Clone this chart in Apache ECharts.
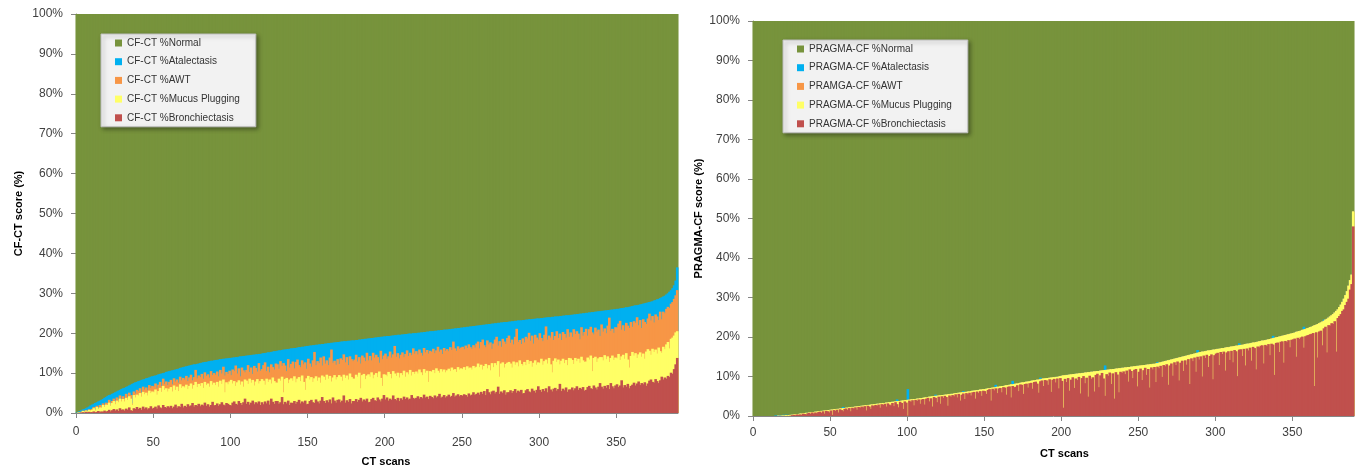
<!DOCTYPE html>
<html>
<head>
<meta charset="utf-8">
<title>CF-CT / PRAGMA-CF</title>
<script src="https://cdn.jsdelivr.net/npm/echarts@6/dist/echarts.min.js"></script>
<style>
  html, body { margin: 0; padding: 0; background: #fff; }
  #main { width: 1357px; height: 467px; }
</style>
</head>
<body>
<div id="main"></div>
<script>
// 390 CT scans per panel. Each array holds the height (%) where that band
// ends for every scan; bands are drawn over each other.
var xTicks = [0, 50, 100, 150, 200, 250, 300, 350];

var ctNames = ['CF-CT %Normal', 'CF-CT %Atalectasis', 'CF-CT %AWT', 'CF-CT %Mucus Plugging', 'CF-CT %Bronchiectasis'];
var pragmaNames = ['PRAGMA-CF %Normal', 'PRAGMA-CF %Atalectasis', 'PRAMGA-CF %AWT', 'PRAGMA-CF %Mucus Plugging', 'PRAGMA-CF %Bronchiectasis'];

var normalTop = [
100,100,100,100,100,100,100,100,100,100, 100,100,100,100,100,100,100,100,100,100,
100,100,100,100,100,100,100,100,100,100, 100,100,100,100,100,100,100,100,100,100,
100,100,100,100,100,100,100,100,100,100, 100,100,100,100,100,100,100,100,100,100,
100,100,100,100,100,100,100,100,100,100, 100,100,100,100,100,100,100,100,100,100,
100,100,100,100,100,100,100,100,100,100, 100,100,100,100,100,100,100,100,100,100,
100,100,100,100,100,100,100,100,100,100, 100,100,100,100,100,100,100,100,100,100,
100,100,100,100,100,100,100,100,100,100, 100,100,100,100,100,100,100,100,100,100,
100,100,100,100,100,100,100,100,100,100, 100,100,100,100,100,100,100,100,100,100,
100,100,100,100,100,100,100,100,100,100, 100,100,100,100,100,100,100,100,100,100,
100,100,100,100,100,100,100,100,100,100, 100,100,100,100,100,100,100,100,100,100,
100,100,100,100,100,100,100,100,100,100, 100,100,100,100,100,100,100,100,100,100,
100,100,100,100,100,100,100,100,100,100, 100,100,100,100,100,100,100,100,100,100,
100,100,100,100,100,100,100,100,100,100, 100,100,100,100,100,100,100,100,100,100,
100,100,100,100,100,100,100,100,100,100, 100,100,100,100,100,100,100,100,100,100,
100,100,100,100,100,100,100,100,100,100, 100,100,100,100,100,100,100,100,100,100,
100,100,100,100,100,100,100,100,100,100, 100,100,100,100,100,100,100,100,100,100,
100,100,100,100,100,100,100,100,100,100, 100,100,100,100,100,100,100,100,100,100,
100,100,100,100,100,100,100,100,100,100, 100,100,100,100,100,100,100,100,100,100,
100,100,100,100,100,100,100,100,100,100, 100,100,100,100,100,100,100,100,100,100,
100,100,100,100,100,100,100,100,100,100
];

// CF-CT panel
var ctAtelectasisTop = [
0.1,0.3,0.5,0.7,0.9,1.0,1.2,1.4,1.6,1.9, 2.1,2.3,2.5,2.7,2.9,3.1,3.3,3.5,3.8,4.0,
4.3,4.5,4.6,4.8,5.0,5.2,5.4,5.6,5.8,6.0, 6.2,6.3,6.5,6.7,6.9,7.1,7.3,7.5,7.7,7.8,
8.0,8.1,8.3,8.4,8.5,8.7,8.8,8.9,9.1,9.2, 9.3,9.4,9.5,9.7,9.8,9.9,10.0,10.1,10.3,10.4,
10.5,10.6,10.7,10.8,10.9,11.0,11.1,11.3,11.4,11.5, 11.6,11.7,11.8,11.9,12.0,12.1,12.2,12.2,12.3,12.4,
12.5,12.6,12.7,12.8,12.8,12.9,13.0,13.1,13.1,13.2, 13.3,13.3,13.4,13.5,13.5,13.6,13.6,13.7,13.7,13.8,
13.8,13.9,13.9,14.0,14.0,14.1,14.2,14.2,14.3,14.3, 14.4,14.4,14.5,14.5,14.6,14.6,14.7,14.7,14.8,14.8,
14.9,15.0,15.0,15.1,15.2,15.2,15.3,15.4,15.5,15.5, 15.6,15.7,15.7,15.8,15.9,15.9,16.0,16.0,16.1,16.2,
16.2,16.3,16.3,16.4,16.5,16.5,16.6,16.6,16.7,16.8, 16.8,16.9,16.9,17.0,17.0,17.1,17.1,17.2,17.2,17.3,
17.3,17.4,17.4,17.5,17.5,17.6,17.6,17.7,17.7,17.8, 17.8,17.9,17.9,18.0,18.0,18.0,18.1,18.1,18.2,18.2,
18.2,18.3,18.3,18.4,18.4,18.5,18.5,18.6,18.6,18.7, 18.7,18.8,18.8,18.9,18.9,19.0,19.0,19.1,19.1,19.2,
19.2,19.3,19.3,19.3,19.4,19.4,19.5,19.5,19.6,19.6, 19.6,19.7,19.7,19.8,19.8,19.9,19.9,19.9,20.0,20.0,
20.0,20.1,20.1,20.2,20.2,20.3,20.3,20.4,20.4,20.5, 20.5,20.5,20.6,20.6,20.7,20.7,20.8,20.8,20.9,20.9,
20.9,21.0,21.0,21.1,21.1,21.2,21.2,21.3,21.3,21.4, 21.4,21.5,21.5,21.6,21.6,21.7,21.7,21.8,21.8,21.9,
21.9,22.0,22.0,22.1,22.1,22.2,22.2,22.3,22.3,22.4, 22.4,22.5,22.5,22.6,22.6,22.7,22.7,22.8,22.8,22.8,
22.9,22.9,23.0,23.0,23.1,23.1,23.2,23.2,23.2,23.3, 23.3,23.4,23.4,23.5,23.5,23.5,23.6,23.6,23.7,23.7,
23.7,23.8,23.8,23.9,23.9,24.0,24.0,24.0,24.1,24.1, 24.2,24.2,24.2,24.3,24.3,24.4,24.4,24.5,24.5,24.5,
24.6,24.6,24.7,24.7,24.8,24.8,24.9,24.9,25.0,25.0, 25.1,25.1,25.2,25.2,25.3,25.3,25.4,25.4,25.5,25.5,
25.6,25.6,25.7,25.7,25.8,25.8,25.9,25.9,26.0,26.0, 26.1,26.1,26.2,26.3,26.3,26.4,26.5,26.5,26.6,26.7,
26.8,26.9,27.0,27.0,27.1,27.2,27.3,27.4,27.5,27.6, 27.7,27.8,27.9,28.0,28.2,28.3,28.5,28.6,28.8,29.0,
29.2,29.4,29.7,30.0,30.4,30.8,31.3,32.0,33.2,36.5
];
var ctAwtTop = [
0.0,0.1,0.2,0.3,0.6,0.4,0.7,0.5,0.9,0.8, 1.0,1.5,0.9,1.8,1.3,2.0,1.6,2.4,1.9,2.6,
2.5,3.3,2.2,3.0,3.6,2.8,3.9,3.2,4.4,3.5, 4.2,3.6,4.8,4.0,5.1,4.5,2.4,5.4,4.9,5.8,
5.5,6.2,5.1,6.6,5.9,6.4,5.7,7.0,6.3,6.8, 6.6,7.4,6.2,7.1,7.8,6.8,8.6,7.3,7.9,7.0,
7.8,8.3,7.2,8.7,7.9,8.4,7.6,9.1,8.2,8.8, 8.4,9.3,8.0,8.9,9.6,8.2,9.0,10.8,8.7,9.4,
9.0,9.8,8.6,10.2,9.3,9.7,8.9,10.5,9.5,10.0, 9.6,10.4,9.2,10.8,9.9,11.6,9.4,10.3,9.8,10.6,
9.5,10.9,10.5,11.9,9.9,11.2,9.2,11.4,10.7,10.2, 10.8,12.0,10.3,11.4,9.8,11.8,11.3,10.4,12.5,10.6,
11.0,12.0,12.7,10.5,11.6,10.2,12.2,11.5,10.9,12.4, 12.2,11.1,13.0,11.8,12.5,11.9,10.5,13.5,11.4,12.3,
12.9,11.2,12.8,13.4,12.0,11.5,13.2,12.2,12.7,11.1, 13.6,12.4,11.6,13.2,15.3,12.0,13.0,12.5,13.9,11.9,
14.2,12.4,13.2,12.0,13.9,15.9,12.6,13.1,12.1,13.5, 12.3,13.7,13.3,14.7,12.7,14.0,12.0,14.2,13.5,13.0,
13.4,14.6,12.9,14.0,12.4,14.4,13.9,13.0,15.1,13.2, 14.3,13.2,15.1,13.9,14.6,14.0,12.6,15.6,13.5,14.4,
14.9,13.6,14.2,15.4,13.9,14.7,16.8,14.1,15.0,13.7, 14.6,15.2,14.0,14.8,15.7,14.3,15.1,14.5,16.2,14.9,
15.5,14.7,15.9,15.1,14.4,16.3,15.2,15.8,14.9,15.6, 15.3,16.1,15.0,15.7,16.6,15.4,15.9,14.8,16.3,15.6,
16.0,15.5,16.5,15.8,17.9,16.2,15.6,16.7,16.1,16.4, 16.6,16.0,16.9,16.3,17.2,16.5,16.1,17.0,16.4,17.4,
17.9,16.2,17.8,18.4,17.0,16.5,18.2,17.2,17.7,16.1, 17.4,18.4,19.1,16.9,18.0,16.6,18.6,17.9,17.3,18.8,
19.4,17.6,18.4,17.2,19.1,21.1,17.8,18.3,17.3,18.7, 17.7,19.1,18.7,20.1,18.1,19.4,17.4,19.6,18.9,18.4,
20.0,18.8,18.0,19.6,21.7,18.4,19.4,18.9,20.3,18.3, 19.3,20.5,18.8,19.9,18.3,20.3,19.8,18.9,21.0,19.1,
20.2,19.1,21.0,19.8,20.5,19.9,18.5,21.5,19.4,20.3, 21.1,19.4,21.0,21.6,20.2,19.7,21.4,20.4,20.9,19.3,
22.2,20.4,21.2,20.0,21.9,23.9,20.6,21.1,20.1,21.5, 21.4,22.4,23.1,20.9,22.0,20.6,22.6,21.9,21.3,22.8,
21.6,23.0,22.6,24.0,22.0,23.3,21.3,23.5,22.8,22.3, 23.7,24.9,23.2,24.3,22.7,24.7,24.2,23.3,25.4,23.5,
25.4,25.0,26.1,26.6,26.3,27.4,27.8,28.6,29.5,30.8
];
var ctMucusTop = [
0.0,0.1,0.2,0.2,0.5,0.3,0.6,0.4,0.8,0.6, 0.8,1.2,0.6,1.5,1.0,1.4,1.3,2.0,1.5,2.1,
2.0,2.6,1.8,2.5,3.0,2.2,3.1,2.7,3.6,2.9, 3.5,2.9,3.8,3.3,4.2,3.6,2.0,4.5,3.9,4.6,
4.4,5.0,4.1,5.3,4.7,5.1,4.4,5.6,5.0,5.4, 5.2,5.9,4.6,5.5,6.3,5.3,6.8,5.8,6.2,5.4,
6.1,6.5,5.4,6.9,5.8,6.6,5.5,7.2,6.3,6.7, 6.4,7.1,6.0,6.8,7.4,6.1,7.0,7.8,6.5,7.3,
6.8,7.5,6.3,7.8,7.0,7.4,6.6,8.0,7.1,7.6, 7.0,7.8,6.6,8.1,7.3,8.4,5.2,7.7,7.2,7.9,
8.3,7.4,8.0,6.8,7.7,8.2,7.1,7.9,6.6,8.4, 8.1,7.3,8.6,7.6,8.3,6.9,7.9,8.5,7.4,8.0,
8.5,8.1,7.1,8.6,7.8,8.4,7.4,8.9,8.0,7.6, 7.6,8.6,8.1,9.1,5.2,8.5,8.8,7.5,8.4,8.7,
8.1,9.2,7.7,8.6,9.0,8.0,9.4,7.8,5.8,8.7, 9.3,8.4,9.0,7.8,8.7,9.2,8.1,8.9,7.6,9.4,
9.1,8.3,9.6,8.6,9.3,7.9,8.9,9.5,8.4,9.0, 9.5,9.1,8.1,9.6,8.8,9.4,8.4,9.9,9.0,8.6,
8.6,9.6,9.1,10.1,6.2,9.5,9.8,8.5,9.4,9.7, 9.1,10.2,8.7,9.6,10.0,9.0,10.4,8.8,6.8,9.7,
9.6,9.2,10.3,9.8,8.7,10.5,9.9,9.3,10.1,8.9, 10.0,9.5,10.6,9.1,10.2,9.7,10.8,9.4,10.3,9.8,
10.4,9.9,10.9,10.2,9.5,11.0,10.1,10.6,7.8,10.5, 10.3,10.8,10.0,11.2,10.6,10.1,11.0,10.4,10.9,10.2,
10.7,11.1,10.5,11.4,10.8,11.0,10.3,11.5,10.9,11.2, 11.0,11.5,10.8,11.7,11.2,11.4,10.9,11.8,11.3,11.6,
12.4,11.5,12.1,10.9,11.8,12.3,11.2,12.0,10.7,12.5, 11.5,12.5,12.0,13.0,9.1,12.4,12.7,11.4,12.3,12.6,
12.8,12.4,11.4,12.9,12.1,12.7,11.7,13.2,12.3,11.9, 12.8,12.0,13.3,12.3,13.0,11.6,12.6,13.2,12.1,12.7,
12.5,13.6,12.1,13.0,13.4,12.4,13.8,12.2,10.2,13.1, 13.7,12.8,13.4,12.2,13.1,13.6,12.5,13.3,12.0,13.8,
13.7,13.3,12.3,13.8,13.0,13.6,12.6,14.1,13.2,12.8, 12.9,13.9,13.4,14.4,10.5,13.8,14.1,12.8,13.7,14.0,
14.0,13.2,14.5,13.5,14.2,12.8,13.8,14.4,13.3,13.9, 13.7,14.8,13.3,14.2,14.6,13.6,15.0,13.4,11.4,14.3,
15.3,14.4,15.0,13.8,14.7,15.2,14.1,14.9,13.6,15.4, 16.0,15.6,14.6,16.1,15.3,15.9,14.9,16.4,15.5,15.1,
16.6,16.0,17.2,17.8,16.2,18.6,18.9,19.4,20.2,20.5
];
var ctBronchTop = [
0.0,0.0,0.1,0.1,0.2,0.1,0.3,0.2,0.3,0.2, 0.2,0.4,0.2,0.3,0.5,0.2,0.4,0.3,0.6,0.3,
0.5,0.8,0.4,0.7,1.0,0.6,0.9,0.5,1.2,0.8, 0.9,0.6,1.1,0.8,1.4,0.7,0.5,1.2,1.0,1.5,
1.0,1.3,0.8,1.6,1.1,1.4,0.9,1.2,1.7,1.1, 1.3,1.6,1.1,1.9,1.4,1.2,2.0,1.5,1.3,1.7,
1.4,1.8,1.2,1.6,2.1,1.3,1.7,1.5,2.3,1.4, 1.8,1.5,2.2,1.7,1.9,2.5,1.6,2.0,1.8,2.3,
1.7,2.1,1.9,2.6,1.8,2.2,1.6,2.0,2.8,1.9, 2.0,2.4,1.8,2.2,2.7,2.1,1.9,2.5,2.3,2.0,
1.9,2.6,2.9,2.3,2.1,3.0,2.5,2.0,2.7,3.6, 2.3,2.8,2.1,2.6,3.1,2.2,2.7,2.4,2.9,2.0,
2.7,2.2,2.9,2.4,3.1,2.1,3.6,2.8,2.3,3.0, 3.0,2.3,2.7,4.0,2.2,2.8,2.4,3.1,2.0,2.6,
2.5,3.0,2.3,2.8,3.3,2.4,2.9,2.6,3.1,2.2, 2.3,3.0,3.3,2.7,2.5,3.4,2.9,2.4,3.1,4.0,
3.0,2.5,3.2,2.7,3.4,2.4,3.9,3.1,2.6,3.3, 3.4,2.7,3.1,4.4,2.6,3.2,2.8,3.5,2.4,3.0,
3.0,3.5,2.8,3.3,3.8,2.9,3.4,3.1,3.6,2.7, 2.8,3.5,3.8,3.2,3.0,3.9,3.4,2.9,3.6,4.5,
3.4,3.9,3.1,3.6,3.3,4.4,3.5,3.2,3.8,3.0, 3.7,3.3,4.1,3.5,3.9,3.4,3.6,4.5,3.8,3.5,
3.8,4.2,3.6,4.0,3.7,4.6,3.9,4.1,3.5,4.3, 4.0,3.7,4.4,3.9,4.2,4.8,3.8,4.1,4.5,3.9,
4.2,4.6,4.0,4.3,5.0,4.1,4.4,4.7,4.2,4.5, 4.3,4.7,4.5,4.1,4.9,4.4,4.6,5.2,4.5,4.8,
5.1,4.6,5.3,4.8,5.5,4.5,6.0,5.2,4.7,5.4, 5.6,4.9,5.3,6.6,4.8,5.4,5.0,5.7,4.6,5.2,
5.2,5.7,5.0,5.5,6.0,5.1,5.6,5.3,5.8,4.9, 5.0,5.7,6.0,5.4,5.2,6.1,5.6,5.1,5.8,6.7,
5.8,5.3,6.0,5.5,6.2,5.2,6.7,5.9,5.4,6.1, 6.3,5.6,6.0,7.3,5.5,6.1,5.7,6.4,5.3,5.9,
5.9,6.4,5.7,6.2,6.7,5.8,6.3,6.0,6.5,5.6, 5.8,6.5,6.8,6.2,6.0,6.9,6.4,5.9,6.6,7.5,
6.6,6.1,6.8,6.3,7.0,6.0,7.5,6.7,6.2,6.9, 7.2,6.5,6.9,8.2,6.4,7.0,6.6,7.3,6.2,6.8,
7.1,7.6,6.9,7.4,7.9,7.0,7.5,7.2,7.7,6.8, 7.4,8.1,8.4,7.8,7.6,8.5,8.0,7.5,8.2,9.1,
8.4,8.9,8.6,9.3,9.0,10.1,9.8,11.0,12.2,13.8
];

// PRAGMA-CF panel (no AWT shows here, so its band ends where mucus ends)
var pragmaAtelectasisTop = [
0,0,0,0,0,0,0,0,0,0, 0,0,0,0,0.1,0.1,0.2,0.2,0.2,0.3,
0.3,0.3,0.3,0.2,0.3,0.3,0.4,0.4,0.5,0.5, 0.6,0.6,0.7,0.7,0.8,0.8,0.9,0.9,1.0,1.0,
1.1,1.1,1.2,1.2,1.3,1.3,1.4,1.4,1.5,1.5, 1.6,1.6,1.7,1.7,1.8,1.8,1.9,1.9,2.3,2.0,
2.1,2.1,2.2,2.2,2.3,2.3,2.4,2.4,2.5,2.5, 2.6,2.6,2.7,2.7,2.8,2.8,2.9,2.9,3.0,3.0,
3.1,3.1,3.2,3.2,3.3,3.3,3.4,3.4,3.5,3.5, 3.6,3.6,3.7,4.2,3.8,3.8,3.9,3.9,4.0,4.0,
6.8,4.1,4.2,4.2,4.3,4.3,4.4,4.4,4.5,4.5, 4.6,4.7,4.7,4.8,4.9,4.9,5.0,5.0,5.4,5.1,
5.2,5.2,5.3,5.3,5.4,5.4,5.5,5.5,5.6,5.6, 5.7,5.8,5.8,5.9,5.9,6.0,6.3,6.1,6.1,6.2,
6.2,6.3,6.4,6.4,6.5,6.5,6.6,6.7,6.7,6.8, 6.8,6.9,7.0,7.0,7.1,7.2,7.2,7.9,7.4,7.4,
7.5,7.6,7.6,7.7,7.8,7.8,7.9,8.0,8.9,8.1, 8.2,8.2,8.3,8.4,8.5,8.5,8.6,8.7,8.7,8.8,
8.9,9.0,9.0,9.1,9.2,9.2,9.7,9.4,9.5,9.5, 9.6,9.6,9.7,9.7,9.8,9.8,9.9,9.9,10.0,10.1,
10.2,10.3,10.3,10.4,10.4,10.5,10.5,10.6,10.6,10.7, 10.7,10.8,10.8,10.9,10.9,11.0,11.0,11.1,11.1,11.2,
11.2,11.3,11.3,11.4,11.4,11.5,11.5,11.6,12.8,11.7, 11.7,11.8,11.8,11.9,11.9,12.0,12.0,12.1,12.1,12.2,
12.2,12.3,12.3,12.4,12.4,12.5,12.5,12.6,12.6,12.7, 12.7,12.8,12.8,12.9,12.9,13.0,13.0,13.1,13.1,13.2,
13.2,13.3,13.7,13.5,13.6,13.7,13.8,13.9,14.0,14.1, 14.2,14.3,14.4,14.5,14.6,14.7,14.8,14.9,15.0,15.1,
15.2,15.3,15.4,15.5,15.6,15.7,15.8,15.9,16.7,16.1, 16.2,16.3,16.3,16.4,16.5,16.6,16.6,16.7,16.8,16.8,
16.9,17.0,17.0,17.1,17.2,17.2,17.3,17.4,17.4,17.5, 17.6,17.6,17.7,17.8,17.8,18.4,18.0,18.0,18.1,18.2,
18.3,18.3,18.4,18.5,18.6,18.6,18.7,18.8,18.9,19.0, 19.1,19.1,19.2,19.3,19.4,19.5,19.6,20.3,19.8,19.9,
20.0,20.1,20.2,20.3,20.4,20.5,20.6,20.7,20.8,20.9, 21.0,21.1,21.3,21.4,21.5,21.6,21.8,22.6,22.0,22.2,
22.3,22.5,22.6,22.8,23.0,23.1,23.3,23.5,23.7,23.9, 24.4,24.4,24.6,24.9,25.2,25.5,25.8,26.2,26.6,27.0,
27.6,28.2,28.9,29.7,30.6,31.6,33.0,34.4,35.8,51.8
];
var pragmaMucusTop = [
0,0,0,0,0,0,0,0,0,0, 0,0,0,0,0,0,0.1,0,0.1,0.1,
0.1,0.2,0.1,0.2,0.3,0.3,0.4,0.4,0.5,0.5, 0.6,0.6,0.7,0.7,0.8,0.8,0.9,0.9,1.0,1.0,
1.1,1.1,1.2,1.2,1.3,1.3,1.4,1.4,1.5,1.5, 1.6,1.6,1.7,1.7,1.8,1.8,1.9,1.9,2.0,2.0,
2.1,2.1,2.2,2.2,2.3,2.3,2.4,2.4,2.5,2.5, 2.6,2.6,2.7,2.7,2.8,2.8,2.9,2.9,3.0,3.0,
3.1,3.1,3.2,3.2,3.3,3.3,3.4,3.4,3.5,3.5, 3.6,3.6,3.7,3.7,3.8,3.8,3.9,3.9,4.0,4.0,
4.1,4.1,4.2,4.2,4.3,4.3,4.4,4.4,4.5,4.5, 4.6,4.7,4.7,4.8,4.9,4.9,5.0,5.0,5.1,5.1,
5.2,5.2,5.3,5.3,5.4,5.4,5.5,5.5,5.6,5.6, 5.7,5.8,5.8,5.9,5.9,6.0,6.0,6.1,6.1,6.2,
6.2,6.3,6.4,6.4,6.5,6.5,6.6,6.7,6.7,6.8, 6.8,6.9,7.0,7.0,7.1,7.2,7.2,7.3,7.4,7.4,
7.5,7.6,7.6,7.7,7.8,7.8,7.9,8.0,8.0,8.1, 8.2,8.2,8.3,8.4,8.5,8.5,8.6,8.7,8.7,8.8,
8.9,9.0,9.0,9.1,9.2,9.2,9.3,9.4,9.5,9.5, 9.6,9.6,9.7,9.7,9.8,9.8,9.9,9.9,10.0,10.1,
10.2,10.3,10.3,10.4,10.4,10.5,10.5,10.6,10.6,10.7, 10.7,10.8,10.8,10.9,10.9,11.0,11.0,11.1,11.1,11.2,
11.2,11.3,11.3,11.4,11.4,11.5,11.5,11.6,11.6,11.7, 11.7,11.8,11.8,11.9,11.9,12.0,12.0,12.1,12.1,12.2,
12.2,12.3,12.3,12.4,12.4,12.5,12.5,12.6,12.6,12.7, 12.7,12.8,12.8,12.9,12.9,13.0,13.0,13.1,13.1,13.2,
13.2,13.3,13.4,13.5,13.6,13.7,13.8,13.9,14.0,14.1, 14.2,14.3,14.4,14.5,14.6,14.7,14.8,14.9,15.0,15.1,
15.2,15.3,15.4,15.5,15.6,15.7,15.8,15.9,16.0,16.1, 16.2,16.3,16.3,16.4,16.5,16.6,16.6,16.7,16.8,16.8,
16.9,17.0,17.0,17.1,17.2,17.2,17.3,17.4,17.4,17.5, 17.6,17.6,17.7,17.8,17.8,17.9,18.0,18.0,18.1,18.2,
18.3,18.3,18.4,18.5,18.6,18.6,18.7,18.8,18.9,19.0, 19.1,19.1,19.2,19.3,19.4,19.5,19.6,19.7,19.8,19.9,
20.0,20.1,20.2,20.3,20.4,20.5,20.6,20.7,20.8,20.9, 21.0,21.1,21.3,21.4,21.5,21.6,21.8,21.9,22.0,22.2,
22.3,22.5,22.6,22.8,23.0,23.1,23.3,23.5,23.7,23.9, 24.1,24.4,24.6,24.9,25.2,25.5,25.8,26.2,26.6,27.0,
27.6,28.2,28.9,29.7,30.6,31.6,33.0,34.4,35.8,51.8
];
var pragmaAwtTop = pragmaMucusTop;
var pragmaBronchTop = [
0,0,0,0,0,0,0,0,0,0, 0,0,0,0,0,0,0,0,0,0,
0.0,0.0,0.0,0.0,0.1,0.2,0.3,0.2,0.4,0.3, 0.4,0.3,0.6,0.5,0.4,0.7,0.8,0.5,0.9,0.6,
0.9,0.7,1.0,1.1,0.8,1.2,0.6,1.3,1.2,0.9, 1.4,0.3,1.5,1.3,1.6,0.9,1.7,1.5,1.2,1.8,
1.9,1.5,2.0,1.2,2.1,1.9,2.2,1.6,2.3,2.1, 2.4,2.2,2.5,1.4,2.6,2.4,1.8,2.7,2.5,2.8,
2.6,2.9,2.1,3.0,2.8,3.1,2.4,3.2,2.9,2.7, 3.3,2.5,3.5,3.0,2.2,3.6,3.3,1.8,3.7,3.4,
0.1,3.9,3.6,4.0,2.7,4.1,3.8,4.2,3.1,4.2, 4.3,2.9,4.4,4.6,3.7,4.5,2.4,4.8,4.6,3.5,
4.9,3.1,5.0,4.6,5.1,4.8,2.6,5.2,4.9,5.3, 5.0,5.5,4.7,5.6,3.9,5.4,5.7,4.3,5.8,5.5,
5.9,5.2,6.0,6.1,4.4,6.2,5.8,6.3,5.1,6.4, 6.3,5.6,6.6,6.8,3.9,6.9,6.5,7.0,5.8,7.0,
7.1,6.0,7.3,7.2,5.4,7.4,7.5,4.7,7.6,7.3, 7.4,7.8,6.3,8.0,7.9,5.6,8.1,8.2,7.2,8.3,
8.4,6.9,8.6,8.7,8.2,5.9,8.8,9.0,7.6,9.1, 9.0,7.9,9.3,6.1,9.2,9.4,8.5,9.5,7.0,9.6,
8.9,2.1,9.4,8.6,9.6,6.4,9.2,9.8,7.1,9.5, 9.1,9.9,5.7,9.6,10.1,8.3,9.7,4.9,10.2,9.4,
9.8,6.2,10.4,10.7,7.3,10.3,10.9,9.5,5.1,10.6, 10.2,11.0,8.1,10.8,4.4,11.1,10.5,6.0,11.2,10.9,
11.3,10.6,11.5,8.7,11.8,11.4,9.6,11.7,11.9,7.5, 11.2,12.0,9.1,11.6,12.2,10.4,11.9,7.2,12.3,11.8,
12.4,8.6,12.5,12.1,12.7,9.9,12.9,12.6,13.1,7.9, 12.8,13.3,10.2,13.6,12.9,13.8,9.0,13.5,14.0,11.4,
14.1,13.0,14.4,8.1,14.6,13.9,14.8,11.2,15.0,14.3, 15.1,10.0,15.3,14.7,15.5,12.4,15.2,15.6,9.3,15.4,
15.8,16.0,12.9,16.2,15.7,16.3,11.5,16.1,16.4,14.2, 16.5,13.6,16.7,16.4,10.1,16.8,16.9,15.2,17.0,12.8,
17.1,16.6,17.3,14.0,17.5,17.2,11.8,17.6,17.4,17.8, 17.9,13.3,18.0,17.7,18.2,15.4,18.3,18.1,10.4,18.5,
18.6,16.2,18.8,18.9,13.5,19.0,18.7,19.2,17.4,19.3, 19.4,19.6,15.0,19.8,19.5,19.9,20.1,17.3,20.2,20.4,
20.5,20.7,20.8,21.0,7.6,21.2,14.8,21.4,21.6,17.9, 22.2,22.6,16.1,23.0,22.9,23.5,23.3,24.0,16.3,24.8,
25.3,25.8,26.6,27.0,28.1,28.9,29.7,32.0,33.4,48.0
];

var colors = ['#77933C', '#00B0F0', '#F79646', '#FFFF66', '#C0504D'];
var font = '"Liberation Sans", Arial, sans-serif';

// one bar series; later series paint over earlier ones.
// bars are a bit wider than their slot so neighbours overlap and no seams show
function band(name, color, tops, idx) {
    return {
        name: name,
        type: 'bar',
        xAxisIndex: idx,
        yAxisIndex: idx,
        barWidth: 2.6,
        barGap: '-100%',
        itemStyle: { color: color },
        emphasis: { disabled: true },
        data: tops.map(function (v, i) { return [i + 0.5, v]; })
    };
}

function legendBox(names, left, top) {
    return {
        data: names,
        orient: 'vertical',
        left: left,
        top: top,
        selectedMode: false,
        icon: 'rect',
        itemWidth: 7,
        itemHeight: 7,
        itemGap: 6.7,
        padding: [3, 16, 3, 14],
        backgroundColor: '#F2F2F2',
        borderColor: '#BFBFBF',
        borderWidth: 1,
        shadowBlur: 4,
        shadowOffsetX: 2,
        shadowOffsetY: 2,
        shadowColor: 'rgba(0,0,0,0.35)',
        textStyle: { fontSize: 10, lineHeight: 12, color: '#333', fontFamily: font }
    };
}

function xAxisFor(idx, nameGap, nameShift, margin, staggered) {
    return {
        type: 'value',
        gridIndex: idx,
        min: 0,
        max: 390,
        name: 'CT scans',
        nameLocation: 'middle',
        nameGap: nameGap,
        nameTextStyle: { fontWeight: 'bold', fontSize: 11, color: '#000', fontFamily: font, padding: [0, 0, 0, nameShift] },
        axisLine: { show: true, lineStyle: { color: '#868686' } },
        axisTick: { show: true, length: 5, customValues: xTicks, lineStyle: { color: '#868686' } },
        axisLabel: {
            customValues: xTicks,
            margin: margin,
            fontSize: 12,
            lineHeight: 11,
            color: '#404040',
            fontFamily: font,
            formatter: function (v) { return (staggered && v !== 0) ? '\n' + v : String(v); }
        },
        splitLine: { show: false }
    };
}

function yAxisFor(idx, name, nameGap) {
    return {
        type: 'value',
        gridIndex: idx,
        min: 0,
        max: 100,
        interval: 10,
        name: name,
        nameLocation: 'middle',
        nameRotate: 90,
        nameGap: nameGap,
        nameTextStyle: { fontWeight: 'bold', fontSize: 11, color: '#000', fontFamily: font },
        axisLine: { show: true, lineStyle: { color: '#868686' } },
        axisTick: { show: true, length: 5, lineStyle: { color: '#868686' } },
        axisLabel: { formatter: '{value}%', margin: 13, fontSize: 12, color: '#404040', fontFamily: font },
        splitLine: { show: false }
    };
}

var myChart = echarts.init(document.getElementById('main'));

var option = {
    animation: false,
    textStyle: { fontFamily: font },
    grid: [
        { left: 76, top: 14, width: 602, height: 399, outerBoundsMode: 'none' },
        { left: 753, top: 21, width: 601, height: 395, outerBoundsMode: 'none' }
    ],
    legend: [legendBox(ctNames, 101, 34), legendBox(pragmaNames, 783, 40)],
    xAxis: [xAxisFor(0, 43, 18, 13, true), xAxisFor(1, 32, 22, 11, false)],
    yAxis: [yAxisFor(0, 'CF-CT score (%)', 52), yAxisFor(1, 'PRAGMA-CF score (%)', 49)],
    series: [
        band(ctNames[0], colors[0], normalTop, 0),
        band(ctNames[1], colors[1], ctAtelectasisTop, 0),
        band(ctNames[2], colors[2], ctAwtTop, 0),
        band(ctNames[3], colors[3], ctMucusTop, 0),
        band(ctNames[4], colors[4], ctBronchTop, 0),
        band(pragmaNames[0], colors[0], normalTop, 1),
        band(pragmaNames[1], colors[1], pragmaAtelectasisTop, 1),
        band(pragmaNames[2], colors[2], pragmaAwtTop, 1),
        band(pragmaNames[3], colors[3], pragmaMucusTop, 1),
        band(pragmaNames[4], colors[4], pragmaBronchTop, 1)
    ]
};

myChart.setOption(option);
</script>
</body>
</html>
